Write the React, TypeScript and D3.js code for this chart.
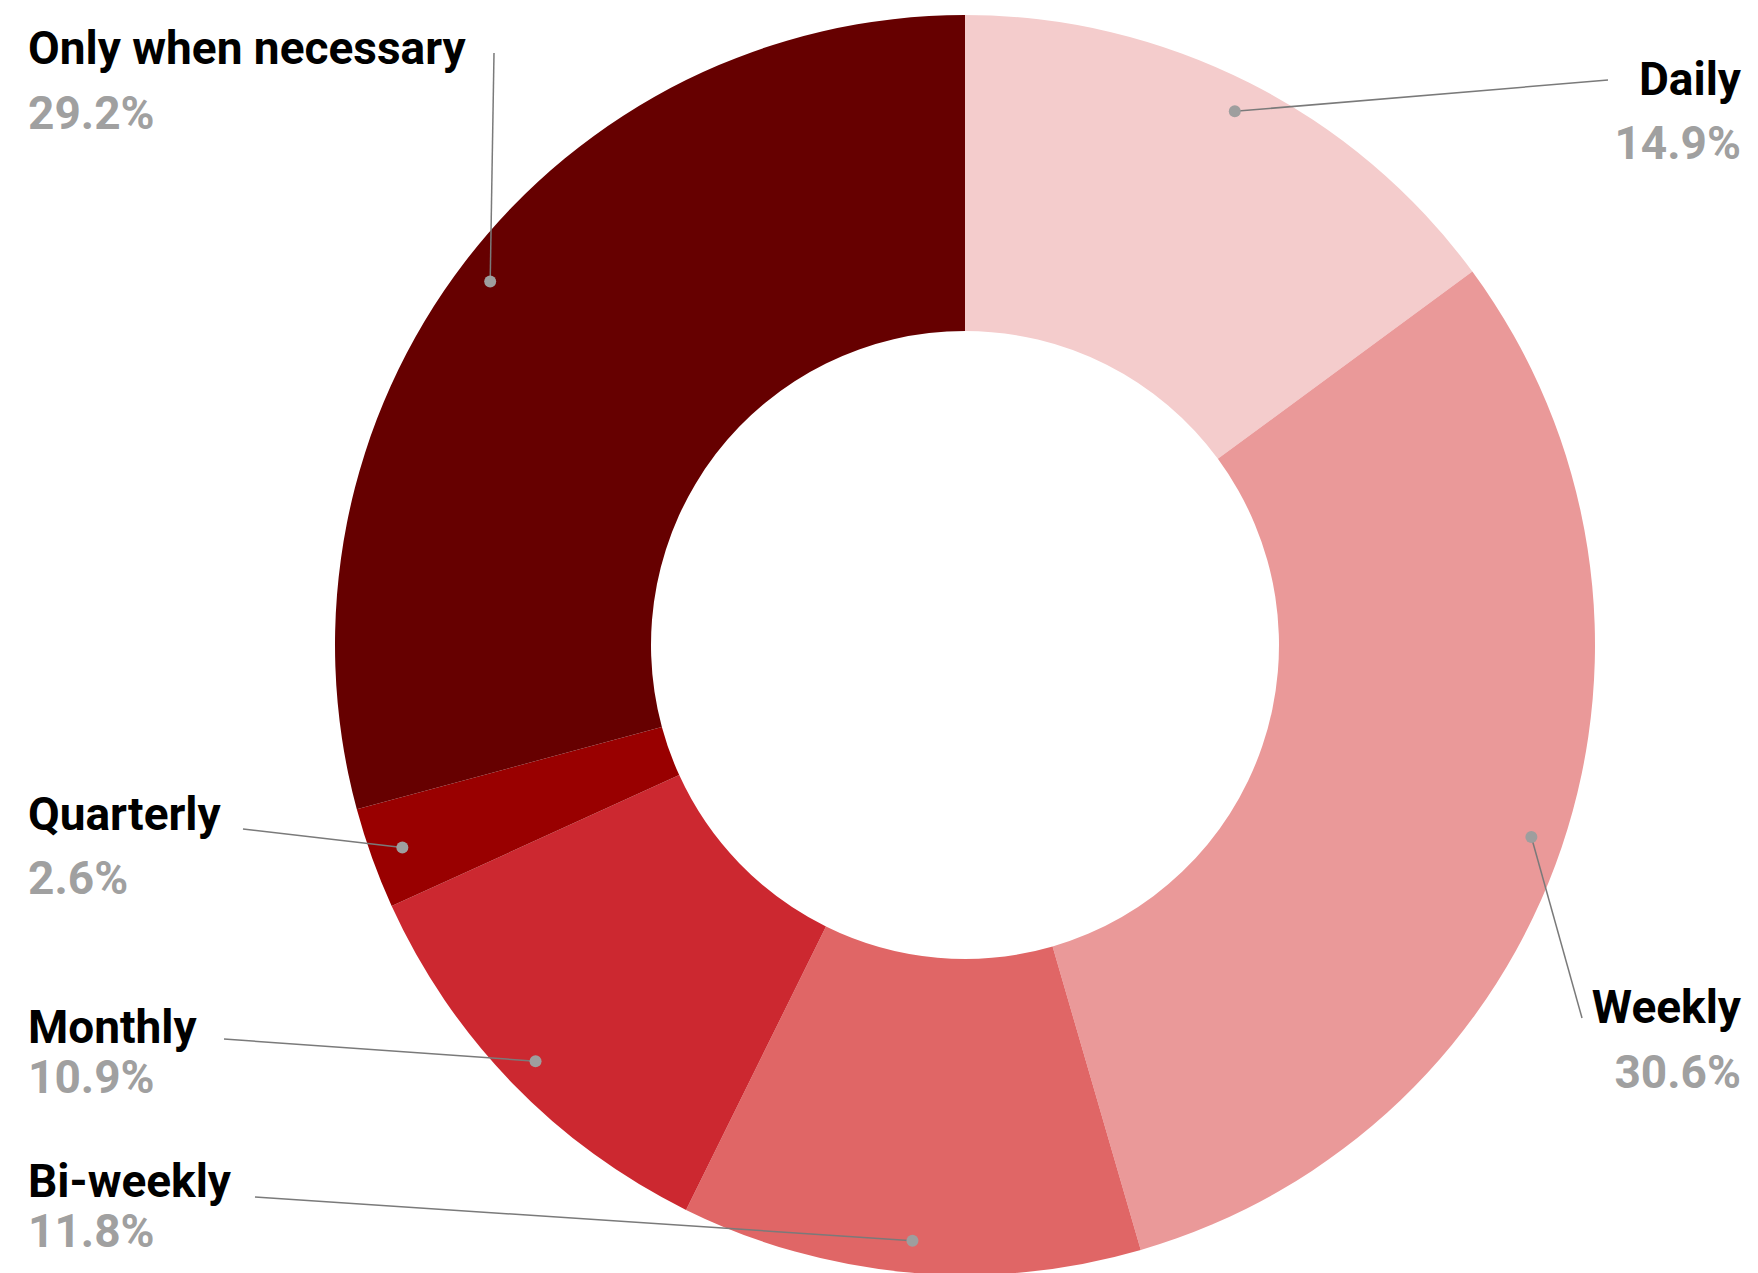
import React from "react";
import * as d3 from "d3";

const categories = ["Daily", "Weekly", "Bi-weekly", "Monthly", "Quarterly", "Only when necessary"];
const values = [14.9, 30.6, 11.8, 10.9, 2.6, 29.2];
const percentLabels = ["14.9%", "30.6%", "11.8%", "10.9%", "2.6%", "29.2%"];

const sliceColors = ["#f4cccc", "#ea9999", "#e06666", "#cc2830", "#990000", "#660000"];

// label layout (page positions of the text blocks and leader-line ends)
const labelLayout = [
  { x: 1741, y: 95, gap: 64, anchor: "end", lx: 1608, ly: 80 },
  { x: 1741, y: 1023, gap: 65, anchor: "end", lx: 1582, ly: 1018 },
  { x: 28, y: 1197, gap: 50, anchor: "start", lx: 255, ly: 1197 },
  { x: 28, y: 1043, gap: 50, anchor: "start", lx: 224, ly: 1039 },
  { x: 28, y: 830, gap: 64, anchor: "start", lx: 243, ly: 829 },
  { x: 28, y: 64, gap: 65, anchor: "start", lx: 494, ly: 53 },
];

const W = 1758;
const H = 1273;
const cx = 965;
const cy = 645;
const outerR = 630;
const innerR = 314;
const dotR = 598;

export default function App() {
  const pie = d3.pie<number>().sort(null).value((d) => d);
  const arcs = pie(values);
  const arc = d3.arc<d3.PieArcDatum<number>>().innerRadius(innerR).outerRadius(outerR);
  const font = "Roboto, 'Noto Sans', sans-serif";

  return (
    <svg
      width={W}
      height={H}
      style={{ position: "absolute", left: 0, top: 0, background: "#fff" }}
    >
      <g transform={`translate(${cx},${cy})`}>
        {arcs.map((a, i) => (
          <path key={categories[i]} d={arc(a) || ""} fill={sliceColors[i]} />
        ))}
      </g>
      {arcs.map((a, i) => {
        const mid = (a.startAngle + a.endAngle) / 2;
        const dx = cx + dotR * Math.sin(mid);
        const dy = cy - dotR * Math.cos(mid);
        const L = labelLayout[i];
        return (
          <g key={"lab" + i}>
            <line x1={dx} y1={dy} x2={L.lx} y2={L.ly} stroke="#7a7a7a" strokeWidth={1.5} />
            <circle cx={dx} cy={dy} r={6} fill="#9e9e9e" />
            <text
              x={L.x}
              y={L.y}
              textAnchor={L.anchor}
              fontFamily={font}
              fontWeight={700}
              fontSize={46}
              fill="#000"
            >
              {categories[i]}
            </text>
            <text
              x={L.x}
              y={L.y + L.gap}
              textAnchor={L.anchor}
              fontFamily={font}
              fontWeight={700}
              fontSize={46}
              fill="#a0a0a0"
            >
              {percentLabels[i]}
            </text>
          </g>
        );
      })}
    </svg>
  );
}
